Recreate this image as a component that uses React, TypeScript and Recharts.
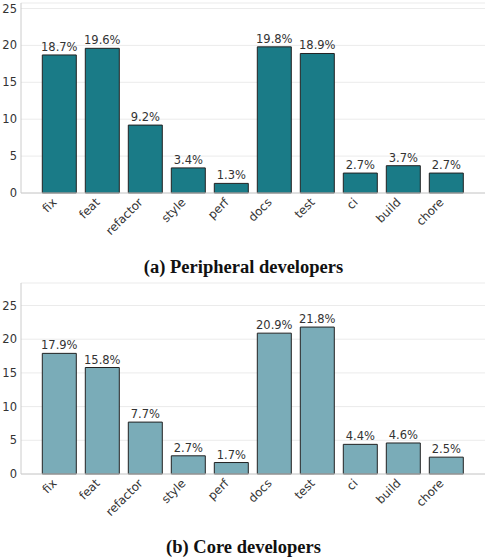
import React from "react";
import { BarChart, Bar, XAxis, YAxis, CartesianGrid, LabelList } from "recharts";

const categories = ["fix", "feat", "refactor", "style", "perf", "docs", "test", "ci", "build", "chore"];
const peripheralShare = [18.7, 19.6, 9.2, 3.4, 1.3, 19.8, 18.9, 2.7, 3.7, 2.7];
const coreShare = [17.9, 15.8, 7.7, 2.7, 1.7, 20.9, 21.8, 4.4, 4.6, 2.5];
const yTicks = [0, 5, 10, 15, 20, 25];

const FONT = "'DejaVu Sans', sans-serif";
const TEXT = "#333333";
const SPINE = "#cccccc";

const XTick = (props: any) => {
  const { x, y, payload } = props;
  const ax = x - 2;
  const ay = y + 10;
  return (
    <text
      x={ax}
      y={ay}
      transform={`rotate(-45, ${ax}, ${ay})`}
      textAnchor="end"
      fontSize={11.8}
      fontFamily={FONT}
      fill={TEXT}
    >
      {payload.value}
    </text>
  );
};

type PanelProps = {
  values: number[];
  color: string;
  height: number;
};

function Panel({ values, color, height }: PanelProps) {
  const rows = categories.map((name, i) => ({ name, value: values[i] }));
  const top = Math.max(...values) * 1.3;
  return (
    <BarChart
      width={487}
      height={height}
      data={rows}
      margin={{ top: 3, right: 2, bottom: 0, left: 0 }}
      barCategoryGap="10%"
    >
      <CartesianGrid vertical={false} stroke="#ebebeb" />
      <XAxis
        dataKey="name"
        height={52}
        padding={{ left: 17, right: 17 }}
        tickLine={false}
        tickSize={0.01}
        tickMargin={0}
        axisLine={{ stroke: SPINE }}
        tick={<XTick />}
        interval={0}
      />
      <XAxis
        xAxisId="top"
        orientation="top"
        dataKey="name"
        height={0}
        tick={false}
        tickLine={false}
        axisLine={{ stroke: SPINE }}
      />
      <YAxis
        width={21}
        domain={[0, top]}
        ticks={yTicks}
        tickLine={false}
        tickSize={0.01}
        tickMargin={4}
        axisLine={{ stroke: SPINE }}
        tick={{ fontSize: 11.5, fontFamily: FONT, fill: TEXT }}
      />
      <YAxis
        yAxisId="right"
        orientation="right"
        width={0}
        tick={false}
        tickLine={false}
        axisLine={{ stroke: SPINE }}
      />
      <Bar dataKey="value" fill={color} stroke="#222222" strokeWidth={1} isAnimationActive={false}>
        <LabelList
          dataKey="value"
          position="top"
          offset={4}
          formatter={(v: any) => `${Number(v).toFixed(1)}%`}
          style={{ fontSize: 11.5, fontFamily: FONT, fill: TEXT }}
        />
      </Bar>
    </BarChart>
  );
}

const captionStyle: React.CSSProperties = {
  position: "absolute",
  left: 0,
  width: 487,
  textAlign: "center",
  fontFamily: "'Liberation Serif', serif",
  fontWeight: "bold",
  fontSize: 18.5,
  color: "#111",
  lineHeight: "20px",
};

export default function App() {
  return (
    <div style={{ position: "fixed", left: 0, top: 0, width: 487, height: 558, background: "#fff" }}>
      <div style={{ position: "absolute", left: 0, top: 0 }}>
        <Panel values={peripheralShare} color="#1a7b87" height={245} />
      </div>
      <div style={{ ...captionStyle, top: 257 }}>(a) Peripheral developers</div>
      <div style={{ position: "absolute", left: 0, top: 280 }}>
        <Panel values={coreShare} color="#7aacb8" height={246} />
      </div>
      <div style={{ ...captionStyle, top: 537 }}>(b) Core developers</div>
    </div>
  );
}
